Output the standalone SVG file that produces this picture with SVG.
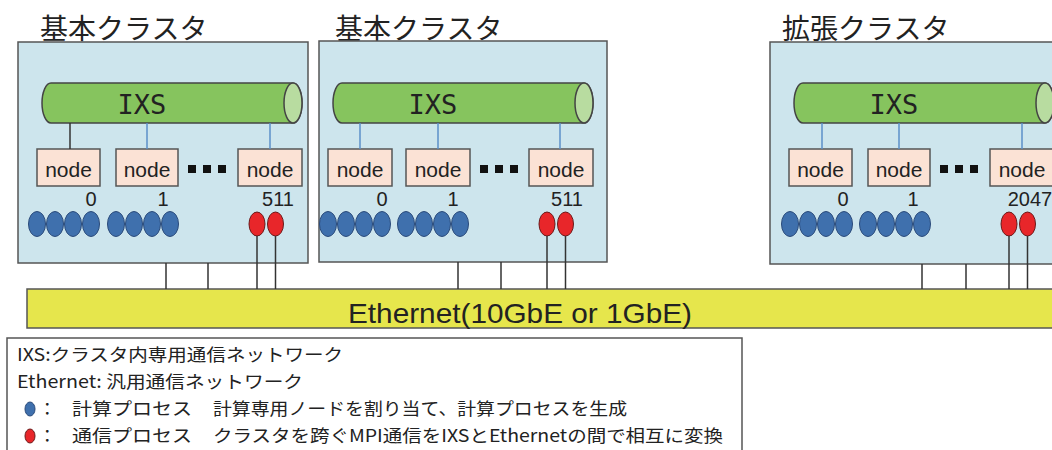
<svg xmlns="http://www.w3.org/2000/svg" width="1052" height="450" viewBox="0 0 1052 450">
<style>
.box{fill:#cde5ed;stroke:#555;stroke-width:1.5}
.title{font-family:"Noto Sans CJK JP","Noto Sans CJK SC",sans-serif;font-size:28px;fill:#222}
.ixs{fill:#86c45e;stroke:#444;stroke-width:1.5}
.cap{fill:#b8dca0;stroke:#444;stroke-width:1.5}
.ixst{font-family:"DejaVu Sans Mono",monospace;font-size:27px;fill:#222;text-anchor:middle}
.nd{fill:#fbe2d5;stroke:#555;stroke-width:1.5}
.ndt{font-family:"Liberation Sans",Arial,sans-serif;font-size:21px;fill:#222;text-anchor:middle}
.num{font-family:"Liberation Sans",Arial,sans-serif;font-size:20px;fill:#222;text-anchor:middle}
.dot{fill:#111}
.bl{fill:#3f70ad;stroke:#2a4a7a;stroke-width:1}
.rd{fill:#e8262a;stroke:#6a1a1a;stroke-width:1}
.cb{stroke:#5b8fc9;stroke-width:1.5;fill:none}
.ck{stroke:#333;stroke-width:1.5;fill:none}
.eth{fill:#e6e64c;stroke:#555;stroke-width:1.5}
.etht{font-family:"Liberation Sans",Arial,sans-serif;font-size:28px;fill:#222}
.leg{fill:#fff;stroke:#555;stroke-width:1.5}
.lt{font-family:"Noto Sans CJK JP","Noto Sans CJK SC",sans-serif;font-size:17.5px;fill:#222}
</style>

<!-- Ethernet bar -->
<g id="ethernet">
<rect class="eth" x="27" y="289" width="1040" height="39"/>
<text class="etht" x="348" y="323" textLength="344" lengthAdjust="spacingAndGlyphs">Ethernet(10GbE or 1GbE)</text>
</g>

<!-- Cluster 1 -->
<g id="cluster1">
<text class="title" x="40" y="39">基本クラスタ</text>
<rect class="box" x="18" y="42" width="290" height="221"/>
<g id="ixs1">
<path class="ixs" d="M51 83 L293 83 A9 20 0 0 1 293 123 L51 123 A9 20 0 0 1 51 83 Z"/>
<ellipse class="cap" cx="293" cy="103" rx="9" ry="20"/>
<text class="ixst" x="142" y="114">IXS</text>
</g>
<g id="c1node0"><rect class="nd" x="37" y="149" width="63" height="37"/><text class="ndt" x="68.5" y="177">node</text><text class="num" x="91" y="206">0</text></g>
<g id="c1node1"><rect class="nd" x="116" y="149" width="62" height="37"/><text class="ndt" x="147" y="177">node</text><text class="num" x="163" y="206">1</text></g>
<g id="c1node511"><rect class="nd" x="238" y="149" width="64" height="37"/><text class="ndt" x="270" y="177">node</text><text class="num" x="278" y="206">511</text></g>
<rect class="dot" x="188" y="165" width="8" height="8"/><rect class="dot" x="203" y="165" width="8" height="8"/><rect class="dot" x="218" y="165" width="8" height="8"/>
<g id="c1procs">
<ellipse class="bl" cx="37" cy="224" rx="8.5" ry="12.5"/><ellipse class="bl" cx="55" cy="224" rx="8.5" ry="12.5"/><ellipse class="bl" cx="73" cy="224" rx="8.5" ry="12.5"/><ellipse class="bl" cx="91" cy="224" rx="8.5" ry="12.5"/>
<ellipse class="bl" cx="116" cy="224" rx="8.5" ry="12.5"/><ellipse class="bl" cx="134" cy="224" rx="8.5" ry="12.5"/><ellipse class="bl" cx="152" cy="224" rx="8.5" ry="12.5"/><ellipse class="bl" cx="170" cy="224" rx="8.5" ry="12.5"/>
<ellipse class="rd" cx="257" cy="224" rx="8" ry="12"/><ellipse class="rd" cx="275.5" cy="224" rx="8" ry="12"/>
</g>
</g>

<!-- Cluster 2 -->
<g id="cluster2">
<text class="title" x="335" y="39">基本クラスタ</text>
<rect class="box" x="319" y="41" width="288" height="221"/>
<g id="ixs2">
<path class="ixs" d="M342 83 L584 83 A9 20 0 0 1 584 123 L342 123 A9 20 0 0 1 342 83 Z"/>
<ellipse class="cap" cx="584" cy="103" rx="9" ry="20"/>
<text class="ixst" x="433" y="114">IXS</text>
</g>
<g id="c2node0"><rect class="nd" x="328" y="149" width="64" height="37"/><text class="ndt" x="360" y="177">node</text><text class="num" x="382" y="206">0</text></g>
<g id="c2node1"><rect class="nd" x="406" y="149" width="64" height="37"/><text class="ndt" x="438" y="177">node</text><text class="num" x="453" y="206">1</text></g>
<g id="c2node511"><rect class="nd" x="529" y="149" width="64" height="37"/><text class="ndt" x="561" y="177">node</text><text class="num" x="567" y="206">511</text></g>
<rect class="dot" x="480" y="165" width="8" height="8"/><rect class="dot" x="495" y="165" width="8" height="8"/><rect class="dot" x="510" y="165" width="8" height="8"/>
<g id="c2procs">
<ellipse class="bl" cx="328" cy="224" rx="8.5" ry="12.5"/><ellipse class="bl" cx="346" cy="224" rx="8.5" ry="12.5"/><ellipse class="bl" cx="364" cy="224" rx="8.5" ry="12.5"/><ellipse class="bl" cx="382" cy="224" rx="8.5" ry="12.5"/>
<ellipse class="bl" cx="406" cy="224" rx="8.5" ry="12.5"/><ellipse class="bl" cx="424" cy="224" rx="8.5" ry="12.5"/><ellipse class="bl" cx="442" cy="224" rx="8.5" ry="12.5"/><ellipse class="bl" cx="460" cy="224" rx="8.5" ry="12.5"/>
<ellipse class="rd" cx="547" cy="224" rx="8" ry="12"/><ellipse class="rd" cx="565.5" cy="224" rx="8" ry="12"/>
</g>
</g>

<!-- Cluster 3 -->
<g id="cluster3">
<text class="title" x="782" y="39">拡張クラスタ</text>
<rect class="box" x="770" y="42" width="300" height="222"/>
<g id="ixs3">
<path class="ixs" d="M803 83 L1045 83 A9 20 0 0 1 1045 123 L803 123 A9 20 0 0 1 803 83 Z"/>
<ellipse class="cap" cx="1045" cy="103" rx="9" ry="20"/>
<text class="ixst" x="894" y="114">IXS</text>
</g>
<g id="c3node0"><rect class="nd" x="789" y="149" width="63" height="37"/><text class="ndt" x="820.5" y="177">node</text><text class="num" x="843" y="206">0</text></g>
<g id="c3node1"><rect class="nd" x="868" y="149" width="62" height="37"/><text class="ndt" x="899" y="177">node</text><text class="num" x="913" y="206">1</text></g>
<g id="c3node2047"><rect class="nd" x="990" y="149" width="64" height="37"/><text class="ndt" x="1022" y="177">node</text><text class="num" x="1030" y="206">2047</text></g>
<rect class="dot" x="940" y="165" width="8" height="8"/><rect class="dot" x="955" y="165" width="8" height="8"/><rect class="dot" x="970" y="165" width="8" height="8"/>
<g id="c3procs">
<ellipse class="bl" cx="790" cy="224" rx="8.5" ry="12.5"/><ellipse class="bl" cx="808" cy="224" rx="8.5" ry="12.5"/><ellipse class="bl" cx="826" cy="224" rx="8.5" ry="12.5"/><ellipse class="bl" cx="844" cy="224" rx="8.5" ry="12.5"/>
<ellipse class="bl" cx="868" cy="224" rx="8.5" ry="12.5"/><ellipse class="bl" cx="886" cy="224" rx="8.5" ry="12.5"/><ellipse class="bl" cx="904" cy="224" rx="8.5" ry="12.5"/><ellipse class="bl" cx="922" cy="224" rx="8.5" ry="12.5"/>
<ellipse class="rd" cx="1009" cy="224" rx="8" ry="12"/><ellipse class="rd" cx="1027.5" cy="224" rx="8" ry="12"/>
</g>
</g>

<!-- Connectors -->
<g id="connectors">
<line class="ck" x1="70" y1="123" x2="70" y2="149"/>
<line class="cb" x1="147" y1="123" x2="147" y2="149"/>
<line class="cb" x1="270" y1="123" x2="270" y2="149"/>
<line class="cb" x1="360" y1="123" x2="360" y2="149"/>
<line class="cb" x1="438" y1="123" x2="438" y2="149"/>
<line class="cb" x1="560" y1="123" x2="560" y2="149"/>
<line class="cb" x1="822" y1="123" x2="822" y2="149"/>
<line class="cb" x1="899" y1="123" x2="899" y2="149"/>
<line class="cb" x1="1022" y1="123" x2="1022" y2="149"/>
<line class="ck" x1="257" y1="236" x2="257" y2="289"/>
<line class="ck" x1="275.5" y1="236" x2="275.5" y2="289"/>
<line class="ck" x1="547" y1="236" x2="547" y2="289"/>
<line class="ck" x1="565.5" y1="236" x2="565.5" y2="289"/>
<line class="ck" x1="1009" y1="236" x2="1009" y2="289"/>
<line class="ck" x1="1027.5" y1="236" x2="1027.5" y2="289"/>
<line class="ck" x1="166" y1="263" x2="166" y2="289"/>
<line class="ck" x1="208" y1="263" x2="208" y2="289"/>
<line class="ck" x1="458" y1="262" x2="458" y2="289"/>
<line class="ck" x1="501" y1="262" x2="501" y2="289"/>
<line class="ck" x1="922" y1="264" x2="922" y2="289"/>
<line class="ck" x1="966" y1="264" x2="966" y2="289"/>
</g>

<!-- Legend -->
<g id="legend">
<rect class="leg" x="7" y="338" width="735" height="130"/>
<text class="lt" x="17" y="361" textLength="326" lengthAdjust="spacingAndGlyphs">IXS:クラスタ内専用通信ネットワーク</text>
<text class="lt" x="17" y="388" textLength="286" lengthAdjust="spacingAndGlyphs">Ethernet: 汎用通信ネットワーク</text>
<ellipse class="bl" cx="30" cy="409" rx="5" ry="7"/>
<text class="lt" x="38.5" y="415">：</text>
<text class="lt" x="72" y="415" textLength="120" lengthAdjust="spacingAndGlyphs">計算プロセス</text>
<text class="lt" x="213" y="415" textLength="414" lengthAdjust="spacingAndGlyphs">計算専用ノードを割り当て、計算プロセスを生成</text>
<ellipse class="rd" cx="30" cy="436" rx="5" ry="7"/>
<text class="lt" x="38.5" y="442">：</text>
<text class="lt" x="72" y="442" textLength="120" lengthAdjust="spacingAndGlyphs">通信プロセス</text>
<text class="lt" x="213" y="442" textLength="510" lengthAdjust="spacingAndGlyphs">クラスタを跨ぐMPI通信をIXSとEthernetの間で相互に変換</text>
</g>
</svg>
